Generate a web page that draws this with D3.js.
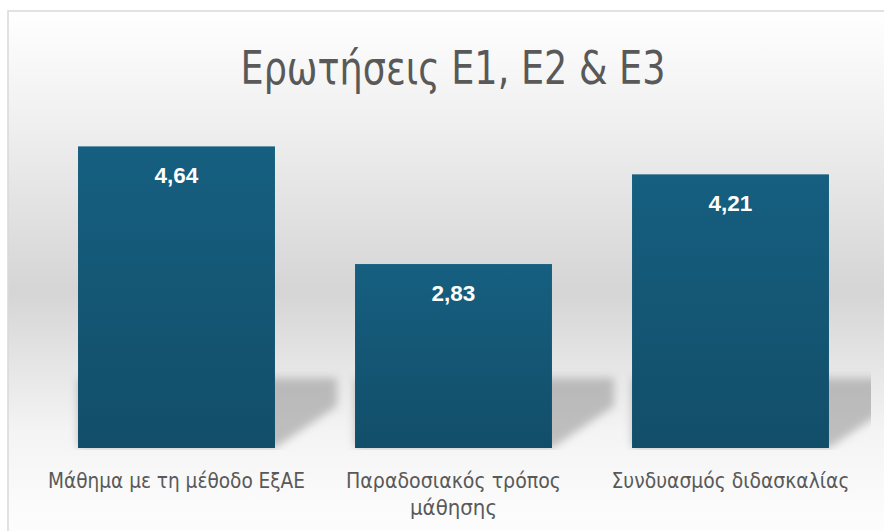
<!DOCTYPE html>
<html>
<head>
<meta charset="utf-8">
<script src="https://cdn.jsdelivr.net/npm/d3@7"></script>
<style>
  html, body { margin: 0; padding: 0; background: #fff; }
  svg { display: block; }
</style>
</head>
<body>
<script>
// data
const categories = ["Μάθημα με τη μέθοδο ΕξΑΕ", "Παραδοσιακός τρόπος μάθησης", "Συνδυασμός διδασκαλίας"];
const values = [4.64, 2.83, 4.21];
const labelLines = [["Μάθημα με τη μέθοδο ΕξΑΕ"], ["Παραδοσιακός τρόπος", "μάθησης"], ["Συνδυασμός διδασκαλίας"]];
const labelWidths = [[257], [215, 87], [238]];
const title = "Ερωτήσεις Ε1, Ε2 & Ε3";

// constants
const width = 884;
const height = 531;
const frame = { x: 8, y: 11, w: 900, h: 540 };
const plot = { left: 38, right: 869, top: 123, bottom: 448 };
const narrow = "'Liberation Sans Narrow', 'DejaVu Sans Condensed', 'Open Sans', sans-serif";

const svg = d3.select('body').append('svg')
  .attr('width', width).attr('height', height);

const defs = svg.append('defs');

// background gradient
const bg = defs.append('linearGradient').attr('id', 'bg')
  .attr('x1', 0).attr('y1', 0).attr('x2', 0).attr('y2', 1);
[[0, '#ffffff'], [0.2, '#f0f0f0'], [0.52, '#d5d5d5'], [0.78, '#f4f4f4'], [1, '#ffffff']]
  .forEach(s => bg.append('stop').attr('offset', s[0]).attr('stop-color', s[1]));

// bar gradient
const bar = defs.append('linearGradient').attr('id', 'bar')
  .attr('x1', 0).attr('y1', 0).attr('x2', 0).attr('y2', 1);
[[0, '#165f80'], [1, '#124e69']]
  .forEach(s => bar.append('stop').attr('offset', s[0]).attr('stop-color', s[1]));

defs.append('filter').attr('id', 'blur')
  .attr('x', '-20%').attr('y', '-20%').attr('width', '140%').attr('height', '140%')
  .append('feGaussianBlur').attr('stdDeviation', 4);

defs.append('clipPath').attr('id', 'plotclip')
  .append('rect').attr('x', plot.left).attr('y', plot.top - 40)
  .attr('width', plot.right - plot.left + 2).attr('height', plot.bottom - plot.top + 42);

// frame
svg.append('rect')
  .attr('x', frame.x).attr('y', frame.y).attr('width', frame.w).attr('height', frame.h)
  .attr('fill', 'url(#bg)').attr('stroke', '#d9d9d9').attr('stroke-width', 1.5);

// scales
const x = d3.scaleBand().domain(categories)
  .range([plot.left, plot.right]).paddingInner(0.289).paddingOuter(0.1445);
const y = d3.scaleLinear().domain([0, 5]).range([plot.bottom, plot.top]);

// title
svg.append('text')
  .attr('x', 453).attr('y', 84)
  .attr('text-anchor', 'middle')
  .attr('font-family', narrow)
  .attr('font-size', 47)
  .attr('textLength', 425).attr('lengthAdjust', 'spacingAndGlyphs')
  .attr('fill', '#595959')
  .text(title);

// shadows
const shadowH = 70, dx = 62, dy = 42;
svg.append('g').attr('clip-path', 'url(#plotclip)')
  .selectAll('polygon').data(categories).join('polygon')
  .attr('points', d => {
    const xl = x(d), xr = x(d) + x.bandwidth(), yb = y(0);
    return [[xl, yb], [xr, yb], [xr + dx, yb - dy], [xr + dx, yb - shadowH], [xl, yb - shadowH]]
      .map(p => p.join(',')).join(' ');
  })
  .attr('fill', '#9a9a9a').attr('opacity', 0.6)
  .attr('filter', 'url(#blur)');

// bars
svg.append('g').selectAll('rect').data(values).join('rect')
  .attr('x', (d, i) => x(categories[i]))
  .attr('y', d => y(d))
  .attr('width', x.bandwidth())
  .attr('height', d => y(0) - y(d))
  .attr('fill', 'url(#bar)');

// value labels
svg.append('g').selectAll('text').data(values).join('text')
  .attr('x', (d, i) => x(categories[i]) + x.bandwidth() / 2)
  .attr('y', d => y(d) + 37)
  .attr('text-anchor', 'middle')
  .attr('font-family', "'Liberation Sans', Arial, sans-serif")
  .attr('font-weight', 'bold')
  .attr('font-size', 22.5)
  .attr('fill', '#ffffff')
  .text(d => d.toFixed(2).replace('.', ','));

// category labels
const cat = svg.append('g').selectAll('text').data(categories).join('text')
  .attr('x', d => x(d) + x.bandwidth() / 2)
  .attr('y', 488)
  .attr('text-anchor', 'middle')
  .attr('font-family', narrow)
  .attr('font-size', 20.5)
  .attr('fill', '#595959');
cat.selectAll('tspan').data((d, i) => labelLines[i].map((t, j) => [t, labelWidths[i][j]])).join('tspan')
  .attr('x', function() { return d3.select(this.parentNode).attr('x'); })
  .attr('dy', (d, j) => j === 0 ? 0 : 27)
  .attr('textLength', d => d[1]).attr('lengthAdjust', 'spacingAndGlyphs')
  .text(d => d[0]);
</script>
</body>
</html>
